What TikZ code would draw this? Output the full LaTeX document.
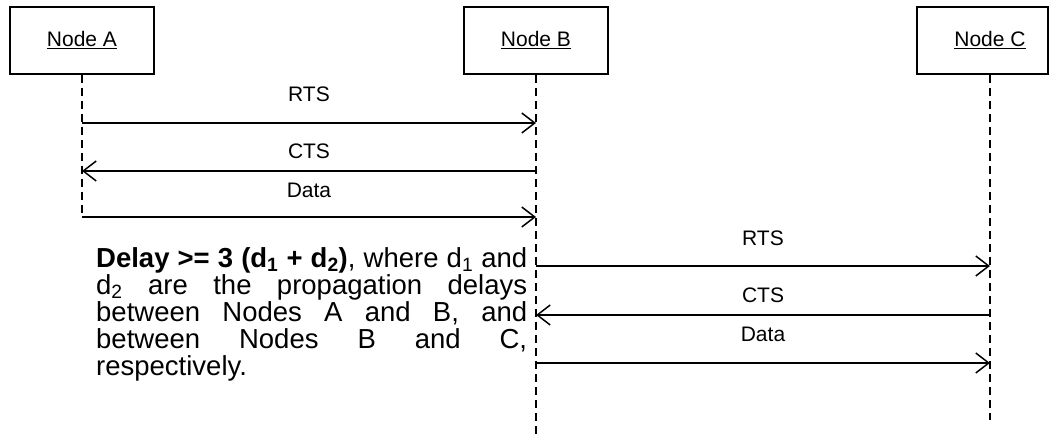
\documentclass[tikz,border=0pt]{standalone}
\usepackage{fontspec}
\setmainfont{Liberation Sans}
\usetikzlibrary{arrows.meta}
\tikzset{
  box/.style={draw, line width=2pt, minimum width=144pt, minimum height=67pt, inner sep=0pt},
  lbl/.style={font=\fontsize{21}{24}\selectfont, inner sep=0pt},
  life/.style={line width=2pt, dash pattern=on 8pt off 5pt},
  msg/.style={line width=1.5pt, -{Straight Barb[length=13pt,width=20pt]}},
}
\begin{document}
\begin{tikzpicture}[x=1pt, y=-1pt]
\useasboundingbox (0,0) rectangle (1050,438);

% participants
\node[box] (A) at (82,40.5) {};
\node[lbl] (At) at (82,40) {\underline{Node A}};
\node[box] (B) at (536,40.5) {};
\node[lbl] (Bt) at (536,40) {\underline{Node B}};
\node[box, minimum width=131pt] (C) at (982.5,40.5) {};
\node[lbl] (Ct) at (990,40) {\underline{Node C}};

% lifeline ends
\coordinate (Aend) at (82,217);
\coordinate (Bend) at (536,438);
\coordinate (Cend) at (990,420);
\draw[life] (A.south) -- (Aend);
\draw[life] (B.south) -- (Bend);
\draw[life] (Ct |- C.south) -- (Cend);

% exchange between A and B
\coordinate (a1) at (82,123);  \coordinate (b1) at (536,123);
\coordinate (a2) at (82,171);  \coordinate (b2) at (536,171);
\coordinate (a3) at (82,217);  \coordinate (b3) at (536,217);
\draw[msg] (a1) -- (b1);
\draw[msg] (b2) -- (a2);
\draw[msg] (a3) -- (b3);
\node[lbl] (rts1) at (309,94) {RTS};
\node[lbl] (cts1) at (309,151) {CTS};
\node[lbl] (data1) at (309,190) {Data};

% exchange between B and C
\coordinate (b4) at (536,266);  \coordinate (c4) at (990,266);
\coordinate (b5) at (536,315);  \coordinate (c5) at (990,315);
\coordinate (b6) at (536,363);  \coordinate (c6) at (990,363);
\draw[msg] (b4) -- (c4);
\draw[msg] (c5) -- (b5);
\draw[msg] (b6) -- (c6);
\node[lbl] (rts2) at (763,238) {RTS};
\node[lbl] (cts2) at (763,295) {CTS};
\node[lbl] (data2) at (763,334) {Data};

% note, justified with fixed line breaks
\node[anchor=north west, inner sep=0pt, text width=431pt, align=justify,
      font=\fontsize{27.5}{27}\selectfont] (note) at (96,247)
  {\lineskiplimit=-100pt\hyphenpenalty=10000\exhyphenpenalty=10000\tolerance=10000
   \textbf{Delay >= 3 (d\textsubscript{1} + d\textsubscript{2})}, where d\textsubscript{1} and\linebreak
   d\textsubscript{2} are the propagation delays\linebreak
   between Nodes A and B, and\linebreak
   between Nodes B and C,\linebreak
   respectively.\par};
\end{tikzpicture}
\end{document}
